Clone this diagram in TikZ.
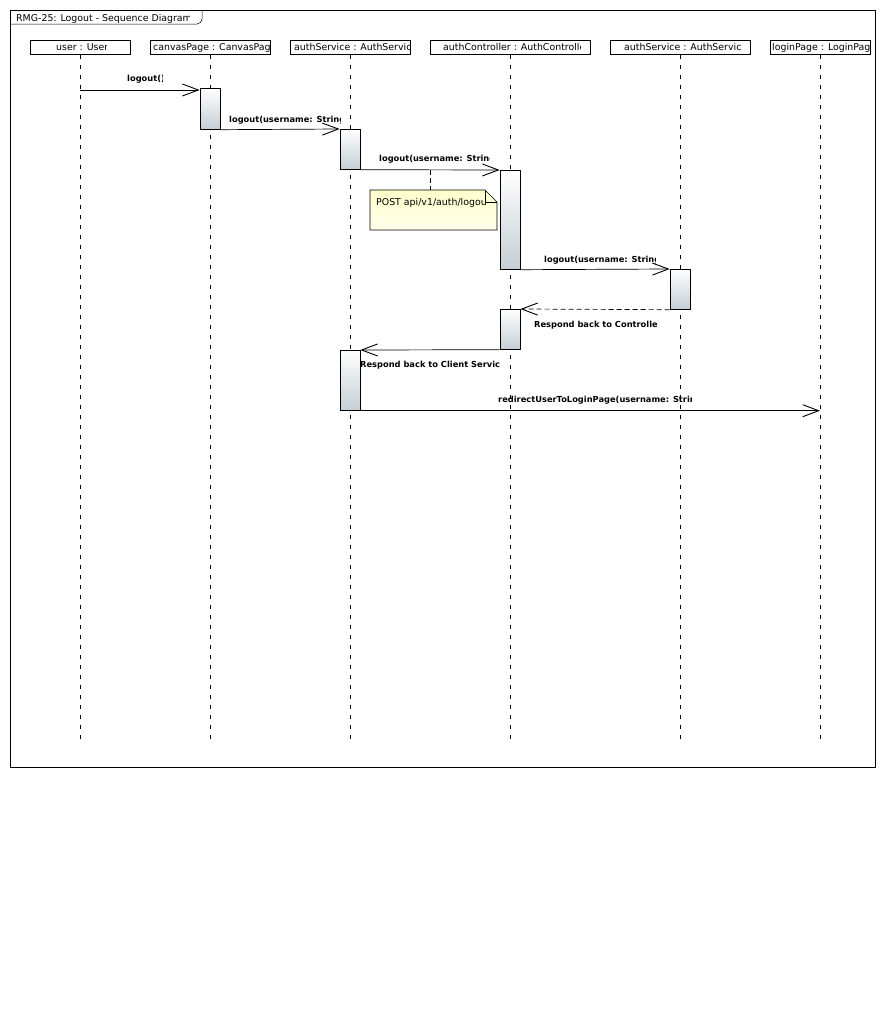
\documentclass[tikz,border=0pt]{standalone}
\usepackage{fontspec}
\setmainfont{DejaVu Sans}
\usetikzlibrary{positioning,arrows.meta,calc}
\definecolor{actgray}{RGB}{196,206,212}
\definecolor{notetop}{RGB}{255,255,204}
\definecolor{notebot}{RGB}{255,255,236}

\tikzset{
  head/.style={draw, line width=0.9pt, minimum height=14pt, inner sep=0pt, anchor=north},
  txt/.style={inner sep=0pt, anchor=base west, font=\fontsize{9.4}{11}\selectfont},
  lbl/.style={inner sep=0pt, anchor=base west, font=\bfseries\fontsize{8.3}{10}\selectfont},
  lifeline/.style={line width=0.7pt, dash pattern=on 4pt off 6pt},
  act/.style={draw, line width=0.7pt, minimum width=20pt, inner sep=0pt, anchor=north,
    top color=white, bottom color=actgray},
  msg/.style={line width=0.7pt, -{Straight Barb[length=16pt,width=12pt,line width=0.9pt]}},
  reply/.style={msg, dash pattern=on 5pt off 3pt},
}
% text cut off at a right edge: [style]{name}{x}{baseline}{right edge}{text}
\newcommand{\cliptext}[6][lbl]{%
  \begin{scope}
    \clip (#3-1,#4-12) rectangle (#5,#4+5);
    \node[#1] (#2) at (#3,#4) {#6};
  \end{scope}}

\begin{document}
\begin{tikzpicture}[x=1pt, y=-1pt]
  \useasboundingbox (0,0) rectangle (885,1020);
  % frame and its tab
  \draw[line width=0.9pt] (10,10) rectangle (875,767);
  \draw[line width=0.5pt, rounded corners=5pt] (10,24) -- (202,24) -- (202,10);
  \cliptext[txt]{title}{16}{21.5}{189}{RMG-25: Logout - Sequence Diagram}

  % lifelines
  \coordinate (bottom) at (0,740);
  \foreach \id/\x/\w/\tx/\tr/\txt in {user/80/100/56/106/{user : User},
      canvas/210/120/153/270/{canvasPage : CanvasPage},
      authsvc/350/120/294/410/{authService : AuthService},
      authctrl/510/160/443/580/{authController : AuthController},
      authsrv/680/140/624/740/{authService : AuthService},
      login/820/100/772/870/{loginPage : LoginPage}}{
    \node[head, minimum width=\w] (\id) at (\x,40) {};
    \cliptext[txt]{\id-t}{\tx}{50.5}{\tr}{\txt}
    \draw[lifeline] (\id.south) -- (\id.south |- bottom);
  }

  % activation bars
  \node[act, minimum height=41] (a1) at (210,88) {};
  \node[act, minimum height=40] (a2) at (350,129) {};
  \node[act, minimum height=99] (a3) at (510,170) {};
  \node[act, minimum height=40] (a4) at (680,269) {};
  \node[act, minimum height=40] (a5) at (510,309) {};
  \node[act, minimum height=60] (a6) at (350,350) {};

  % note on the controller call
  \coordinate (nt) at (430,190);
  \shade[top color=notetop, bottom color=notebot, draw, line width=0.6pt]
    (370,190) -- (485,190) -- (497,202) -- (497,230) -- (370,230) -- cycle;
  \draw[line width=0.6pt] (485,190) -- (485,202) -- (497,202);
  \cliptext[txt]{notetxt}{376}{205}{486}{POST api/v1/auth/logout}
  \draw[lifeline, dash pattern=on 5pt off 3pt] (nt |- a3.north) -- (nt);

  % messages
  \draw[msg] ([yshift=-2pt]a1.north west -| user) -- ([yshift=-2pt]a1.north west);
  \cliptext{m1}{127}{81}{162}{logout()}
  \draw[msg] (a1.south east) -- (a2.north west);
  \cliptext{m2}{229}{122}{340}{logout(username: String)}
  \draw[msg] (a2.south east) -- (a3.north west);
  \cliptext{m3}{379}{161}{489}{logout(username: String)}
  \draw[msg] (a3.south east) -- (a4.north west);
  \cliptext{m4}{544}{262}{655}{logout(username: String)}
  \draw[reply] (a4.south west) -- (a5.north east);
  \cliptext{m5}{534}{327}{656}{Respond back to Controller}
  \draw[msg] (a5.south west) -- (a6.north east);
  \cliptext{m6}{360}{367}{499}{Respond back to Client Service}
  \draw[msg] (a6.south east) -- (a6.south east -| login);
  \cliptext{m7}{498}{402}{691}{redirectUserToLoginPage(username: String)}
\end{tikzpicture}
\end{document}
